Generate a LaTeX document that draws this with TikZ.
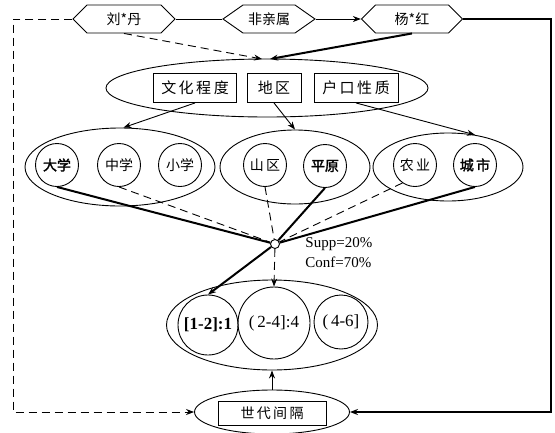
\documentclass[tikz,border=0pt]{standalone}
\usepackage{fontspec}
\setmainfont{Liberation Serif}
\newfontfamily\cjk{Noto Sans CJK SC}
\newfontfamily\cjkb[FakeBold=2]{Noto Sans CJK SC}
\usetikzlibrary{shapes.geometric,shapes.symbols,arrows.meta}
\begin{document}
\begin{tikzpicture}[x=1pt,y=-1pt,
  line width=0.9pt,
  >={Stealth[length=8pt,width=6pt]},
  hexa/.style={signal, signal to=west and east, draw, minimum height=28, inner sep=2pt, font=\cjk\fontsize{14}{14}\selectfont},
  grp/.style={ellipse, draw},
  cbox/.style={rectangle, draw, minimum height=29, inner sep=3pt, font=\cjk\fontsize{15}{15}\selectfont},
  val/.style={circle, draw, minimum size=43, inner sep=0pt, font=\cjk\fontsize{14}{14}\selectfont},
  valb/.style={val, font=\cjkb\fontsize{14}{14}\selectfont},
  rng/.style={circle, draw, inner sep=0pt, font=\fontsize{17}{17}\selectfont},
  strong/.style={line width=2pt},
  weak/.style={dash pattern=on 8pt off 5pt}
]
\useasboundingbox (0,0) rectangle (555,432);
% top row
\node[hexa, minimum width=102] (ld) at (124,19) {刘*丹};
\node[hexa, minimum width=92, signal pointer angle=70] (fq) at (269,19) {非亲属};
\node[hexa, minimum width=101] (yh) at (412,19) {杨*红};
\draw (ld.east) -- (fq.west);
\draw[->] (fq.east) -- (yh.west);
% top group
\node[grp, minimum width=322, minimum height=58] (te) at (267,88) {};
\node[cbox, minimum width=83] (wh) at (195,88) {文\,化\,程\,度};
\node[cbox, minimum width=54] (dq) at (274,88) {地\,区};
\node[cbox, minimum width=84] (hk) at (356,88) {户\,口\,性\,质};
\coordinate (tl) at (262,59);
\coordinate (tr) at (270,59);
\draw[weak,->] (ld.south) -- (tl);
\draw[strong,->] (yh.south) -- (tr);
% second row groups
\node[grp, minimum width=190, minimum height=78] (g1) at (120,167) {};
\node[grp, minimum width=150, minimum height=74] (g2) at (295,167) {};
\node[grp, minimum width=150, minimum height=68] (g3) at (448,167) {};
\node[valb] (dx) at (57,165) {大学};
\node[val] (zx) at (119,165) {中学};
\node[val] (xx) at (180,165) {小学};
\node[val] (sq) at (265,165) {山\,区};
\node[valb] (py) at (325,166) {平原};
\node[val] (ny) at (415,165) {农\,业};
\node[valb] (cs) at (475,165) {城\,市};
\draw[->] (wh.south) -- (g1.85);
\draw[->] (dq.south) -- (g2.north);
\draw[->] (hk.south) -- (g3.50);
% hub
\node[circle, draw, minimum size=9, inner sep=0pt, fill=white] (hub) at (275,244) {};
\node[anchor=west, align=left, font=\fontsize{15}{20}\selectfont, inner sep=0pt] (sc) at (305,253) {Supp=20\%\\Conf=70\%};
\draw[strong] (dx.south) -- (hub);
\draw[weak] (zx.south) -- (hub);
\draw[weak] (sq.south) -- (hub);
\draw[strong] (py.south) -- (hub);
\draw[weak] (ny.235) -- (hub);
\draw[strong] (cs.south) -- (hub);
% bottom group
\node[grp, minimum width=211, minimum height=90] (be) at (272,325) {};
\node[rng, minimum size=60, font=\bfseries\fontsize{17}{17}\selectfont] (r1) at (208,325) {[1-2]:1};
\node[rng, minimum size=72] (r2) at (274,323) {(\,2-4]:4};
\node[rng, minimum size=54] (r3) at (341,322) {(\,4-6]};
\draw[strong,->] (hub) -- (r1.north);
\draw[weak,->] (hub) -- (r2.north);
% generation gap
\node[grp, minimum width=155, minimum height=44] (sd) at (272,412) {};
\node[cbox, minimum width=108, minimum height=24, inner sep=1pt, font=\cjk\fontsize{14}{14}\selectfont] (sdb) at (272,413) {世\,代\,间\,隔};
\draw[->] (sd.north) -- (be.south);
\coordinate (rc) at (551,19);
\coordinate (lc) at (13,19);
\draw[strong,->] (yh.east) -- (rc) |- (sd.east);
\draw[weak,->] (ld.west) -- (lc) |- (sd.west);
\end{tikzpicture}
\end{document}
